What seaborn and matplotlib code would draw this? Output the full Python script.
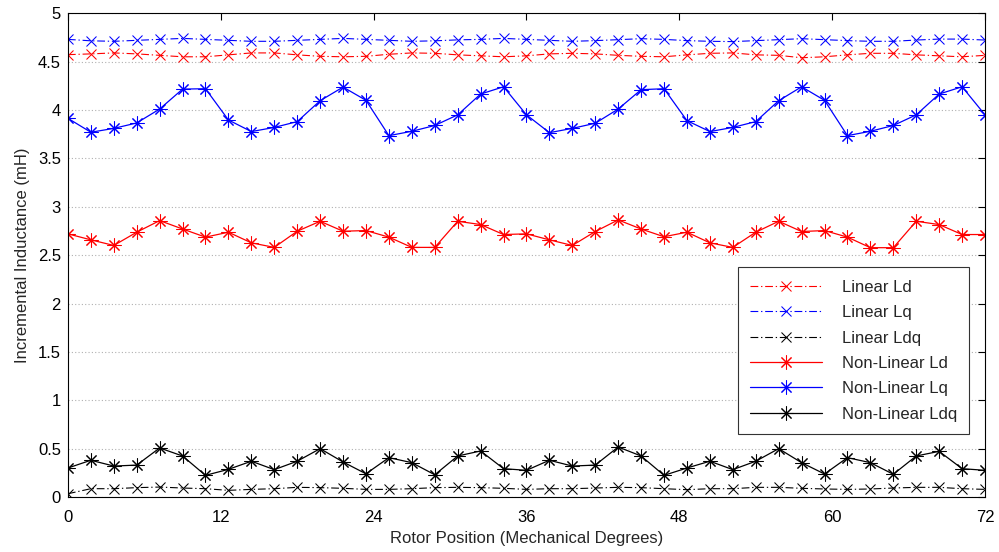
import numpy as np
import pandas as pd
import matplotlib
matplotlib.use("Agg")
import matplotlib.pyplot as plt
import seaborn as sns

# Rotor positions (mechanical degrees), 1.8 deg steps over 0..72
rotor_pos = [round(1.8 * i, 1) for i in range(41)]

linear_ld = [4.572, 4.580, 4.590, 4.580, 4.565, 4.550, 4.550, 4.570, 4.590, 4.590,
             4.570, 4.555, 4.550, 4.555, 4.576, 4.590, 4.586, 4.570, 4.560, 4.550,
             4.560, 4.580, 4.586, 4.580, 4.565, 4.555, 4.550, 4.570, 4.586, 4.590,
             4.570, 4.565, 4.540, 4.550, 4.570, 4.586, 4.586, 4.570, 4.560, 4.550,
             4.565]

linear_lq = [4.730, 4.715, 4.710, 4.720, 4.730, 4.740, 4.730, 4.720, 4.710, 4.710,
             4.720, 4.730, 4.740, 4.730, 4.720, 4.710, 4.715, 4.725, 4.730, 4.740,
             4.730, 4.720, 4.710, 4.717, 4.727, 4.737, 4.730, 4.717, 4.710, 4.707,
             4.717, 4.727, 4.737, 4.727, 4.717, 4.710, 4.710, 4.723, 4.733, 4.733,
             4.723]

linear_ldq = [0.034, 0.086, 0.086, 0.097, 0.103, 0.093, 0.086, 0.069, 0.079, 0.086,
              0.100, 0.097, 0.090, 0.079, 0.079, 0.086, 0.097, 0.100, 0.097, 0.090,
              0.079, 0.086, 0.086, 0.093, 0.100, 0.097, 0.086, 0.076, 0.086, 0.086,
              0.100, 0.100, 0.090, 0.083, 0.079, 0.083, 0.093, 0.100, 0.100, 0.086,
              0.079]

nonlinear_ld = [2.720, 2.658, 2.600, 2.737, 2.857, 2.770, 2.686, 2.737, 2.627, 2.580,
                2.747, 2.850, 2.747, 2.754, 2.686, 2.580, 2.580, 2.850, 2.816, 2.713,
                2.720, 2.658, 2.600, 2.744, 2.864, 2.770, 2.690, 2.737, 2.627, 2.580,
                2.737, 2.850, 2.744, 2.754, 2.686, 2.577, 2.577, 2.850, 2.816, 2.713,
                2.713]

nonlinear_lq = [3.914, 3.770, 3.810, 3.866, 4.010, 4.216, 4.220, 3.897, 3.777, 3.820,
                3.880, 4.096, 4.237, 4.100, 3.735, 3.780, 3.840, 3.950, 4.165, 4.240,
                3.950, 3.766, 3.810, 3.863, 4.010, 4.210, 4.220, 3.890, 3.777, 3.820,
                3.880, 4.096, 4.240, 4.100, 3.735, 3.780, 3.840, 3.950, 4.165, 4.240,
                3.950]

nonlinear_ldq = [0.300, 0.380, 0.320, 0.330, 0.507, 0.424, 0.224, 0.286, 0.370, 0.283,
                 0.370, 0.500, 0.362, 0.240, 0.407, 0.355, 0.230, 0.424, 0.476, 0.293,
                 0.276, 0.380, 0.320, 0.330, 0.517, 0.424, 0.224, 0.300, 0.370, 0.283,
                 0.370, 0.500, 0.355, 0.238, 0.407, 0.355, 0.235, 0.424, 0.472, 0.293,
                 0.276]

series_names = ["Linear Ld", "Linear Lq", "Linear Ldq",
                "Non-Linear Ld", "Non-Linear Lq", "Non-Linear Ldq"]
series_values = [linear_ld, linear_lq, linear_ldq,
                 nonlinear_ld, nonlinear_lq, nonlinear_ldq]

x_ticks = [0, 12, 24, 36, 48, 60, 72]
y_ticks = [0, 0.5, 1, 1.5, 2, 2.5, 3, 3.5, 4, 4.5, 5]
y_tick_labels = ["0", "0.5", "1", "1.5", "2", "2.5", "3", "3.5", "4", "4.5", "5"]

df = pd.DataFrame({
    "Rotor Position": np.tile(rotor_pos, len(series_names)),
    "Inductance": np.concatenate(series_values),
    "Series": np.repeat(series_names, len(rotor_pos)),
})

sns.set_theme(style="white")
plt.rcParams["font.family"] = ["Liberation Sans", "DejaVu Sans"]

FS = 12

fig = plt.figure(figsize=(9.99, 5.52), dpi=100)
ax = fig.add_axes([0.068, 0.0996, 0.918, 0.8764])

asterisk = (8, 2, 0)
dashdot = (0, (7, 2.5, 1.2, 2.5))
styles = {
    "Linear Ld":      dict(color="#ff0000", ls=dashdot, marker="x", ms=7, lw=0.8),
    "Linear Lq":      dict(color="#0000ff", ls=dashdot, marker="x", ms=7, lw=0.8),
    "Linear Ldq":     dict(color="#000000", ls=dashdot, marker="x", ms=7, lw=0.8),
    "Non-Linear Ld":  dict(color="#ff0000", ls="-", marker=asterisk, ms=10, lw=0.9),
    "Non-Linear Lq":  dict(color="#0000ff", ls="-", marker=asterisk, ms=10, lw=0.9),
    "Non-Linear Ldq": dict(color="#000000", ls="-", marker=asterisk, ms=10, lw=0.9),
}

for name in series_names:
    st = styles[name]
    sub = df[df["Series"] == name]
    sns.lineplot(data=sub, x="Rotor Position", y="Inductance", ax=ax,
                 color=st["color"], linestyle=st["ls"], linewidth=st["lw"],
                 marker=st["marker"], markersize=st["ms"],
                 markeredgecolor=st["color"], markeredgewidth=0.75,
                 label=name, estimator=None, sort=False)

ax.set_xlim(0, 72)
ax.set_ylim(0, 5)
ax.set_xticks(x_ticks)
ax.set_xticklabels([str(t) for t in x_ticks])
ax.set_yticks(y_ticks)
ax.set_yticklabels(y_tick_labels)

ax.yaxis.grid(True, linestyle=(0, (1, 2)), color="#b0b0b0", linewidth=0.8)
ax.xaxis.grid(False)

ax.tick_params(axis="both", which="both", direction="in", length=5, width=0.8,
               top=True, right=True, labelsize=FS, colors="black", pad=5)
ax.tick_params(axis="x", pad=9)
for sp in ax.spines.values():
    sp.set_color("black")
    sp.set_linewidth(0.8)

ax.set_xlabel("Rotor Position (Mechanical Degrees)", fontsize=FS, labelpad=5)
ax.set_ylabel("Incremental Inductance (mH)", fontsize=FS, labelpad=6)

leg = ax.legend(loc="lower right", bbox_to_anchor=(0.983, 0.13), fontsize=FS,
                frameon=True, fancybox=False, edgecolor="#333333", framealpha=1,
                handlelength=4.3, labelspacing=0.62, borderpad=0.75,
                handletextpad=1.2, borderaxespad=0)
leg.get_frame().set_linewidth(0.8)

fig.savefig("out.png", dpi=100)
